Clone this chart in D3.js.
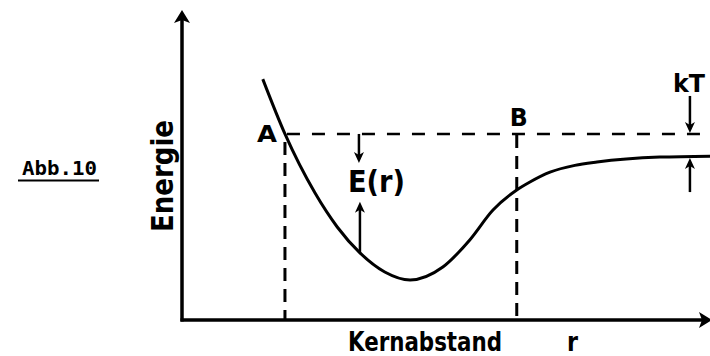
<!DOCTYPE html>
<html lang="de">
<head>
<meta charset="UTF-8">
<script src="https://d3js.org/d3.v7.min.js"></script>
<style>
  body { margin: 0; background: #fff; }
  svg { display: block; }
  .lbl { font-family: "DejaVu Sans", sans-serif; font-weight: bold; fill: #000; }
</style>
</head>
<body>
<div id="chart"></div>
<script>
// potential curve E(r) (arbitrary units)
const rVals = [1.53, 1.95, 2.52, 2.94, 3.37, 3.84, 4.32, 4.94, 5.45, 5.89, 6.34, 6.59, 6.97, 7.44, 7.86, 9.05, 10];
const eVals = [7.82, 6.04, 4.12, 3.02, 2.18, 1.56, 1.30, 1.72, 2.60, 3.57, 4.22, 4.48, 4.80, 5.02, 5.13, 5.29, 5.32];

// annotation values
const levelE = 6.04;   // energy level through A and B
const rA = 1.95, rB = 6.34;
const rEArrow = 3.37;  // where the E(r) arrows sit
const rKT = 9.62;      // where the kT arrows sit
const eAsym = 5.29;

const width = 710, height = 356;

const svg = d3.select("#chart").append("svg")
  .attr("width", width).attr("height", height);

const x = d3.scaleLinear().domain([0, 10]).range([182, 710]);
const y = d3.scaleLinear().domain([0, 10]).range([320, 12]);

const pts = rVals.map((r, i) => [r, eVals[i]]);

// arrowhead helper (filled), tip at (tx,ty), pointing dir: "up" | "down" | "right"
function head(tx, ty, dir, w = 5, l = 11) {
  let p;
  if (dir === "up") p = [[tx, ty], [tx - w, ty + l], [tx, ty + l - 3], [tx + w, ty + l]];
  else if (dir === "down") p = [[tx, ty], [tx - w, ty - l], [tx, ty - l + 3], [tx + w, ty - l]];
  else p = [[tx, ty], [tx - l, ty - w], [tx - l + 3, ty], [tx - l, ty + w]];
  svg.append("path").attr("d", "M" + p.join("L") + "Z").attr("fill", "#000");
}

// axes
svg.append("line")
  .attr("x1", x(0)).attr("x2", x(0))
  .attr("y1", y(0) + 1.5).attr("y2", y(10) + 4)
  .attr("stroke", "#000").attr("stroke-width", 3.5);
head(x(0), y(10) - 2, "up", 8, 13);

svg.append("line")
  .attr("x1", x(0) - 1.5).attr("x2", x(10) - 4)
  .attr("y1", y(0)).attr("y2", y(0))
  .attr("stroke", "#000").attr("stroke-width", 3.5);
head(x(10) + 2, y(0), "right", 8, 13);

// dashed level line and verticals
svg.append("line")
  .attr("x1", x(rA) + 2).attr("x2", x(10))
  .attr("y1", y(levelE)).attr("y2", y(levelE))
  .attr("stroke", "#000").attr("stroke-width", 2.5)
  .attr("stroke-dasharray", "13,12");

[rA, rB].forEach((r, i) => {
  svg.append("line")
    .attr("x1", x(r)).attr("x2", x(r))
    .attr("y1", i === 0 ? y(levelE) + 8 : y(levelE) + 1).attr("y2", y(0))
    .attr("stroke", "#000").attr("stroke-width", 3)
    .attr("stroke-dasharray", "13,8");
});

// the curve
svg.append("path")
  .datum(pts)
  .attr("fill", "none")
  .attr("stroke", "#000")
  .attr("stroke-width", 3)
  .attr("d", d3.line().x(d => x(d[0])).y(d => y(d[1])).curve(d3.curveMonotoneX));

// E(r) arrows
const curveAt = r => eVals[rVals.indexOf(r)];
svg.append("line")
  .attr("x1", x(rEArrow) - 1).attr("x2", x(rEArrow) - 1)
  .attr("y1", y(levelE)).attr("y2", y(levelE) + 24)
  .attr("stroke", "#000").attr("stroke-width", 2.5);
head(x(rEArrow) - 1, y(levelE) + 29, "down");
svg.append("line")
  .attr("x1", x(rEArrow)).attr("x2", x(rEArrow))
  .attr("y1", y(curveAt(rEArrow))).attr("y2", y(curveAt(rEArrow)) - 46)
  .attr("stroke", "#000").attr("stroke-width", 2.5);
head(x(rEArrow), y(curveAt(rEArrow)) - 51, "up");

// kT arrows
svg.append("line")
  .attr("x1", x(rKT)).attr("x2", x(rKT))
  .attr("y1", y(levelE) - 38).attr("y2", y(levelE) - 6)
  .attr("stroke", "#000").attr("stroke-width", 2.5);
head(x(rKT), y(levelE) - 1, "down");
svg.append("line")
  .attr("x1", x(rKT)).attr("x2", x(rKT))
  .attr("y1", y(eAsym) + 35).attr("y2", y(eAsym) + 6)
  .attr("stroke", "#000").attr("stroke-width", 2.5);
head(x(rKT), y(eAsym) + 1, "up");

// labels
function label(t, cx, by, size, len, anchor = "middle") {
  return svg.append("text").attr("class", "lbl")
    .attr("x", cx).attr("y", by)
    .attr("text-anchor", anchor)
    .attr("font-size", size)
    .attr("textLength", len).attr("lengthAdjust", "spacingAndGlyphs")
    .text(t);
}

label("A", x(rA) - 18, y(levelE) + 8, 23, 20);
label("B", x(rB) + 2, y(levelE) - 8, 25, 18);
label("kT", 689, 92, 25, 32);
label("E(r)", 348, 192, 31, 57, "start");
label("Kernabstand", 348, 351, 26, 154, "start");
label("r", 567, 351, 26, 11, "start");

svg.append("text").attr("class", "lbl")
  .attr("transform", "translate(173,232) rotate(-90)")
  .attr("font-size", 30)
  .attr("textLength", 112).attr("lengthAdjust", "spacingAndGlyphs")
  .text("Energie");

svg.append("text")
  .attr("x", 22).attr("y", 175)
  .attr("font-family", "DejaVu Sans Mono, monospace")
  .attr("font-weight", "bold")
  .attr("font-size", 19)
  .attr("textLength", 75).attr("lengthAdjust", "spacingAndGlyphs")
  .text("Abb.10");
svg.append("line")
  .attr("x1", 18).attr("x2", 99).attr("y1", 180.5).attr("y2", 180.5)
  .attr("stroke", "#000").attr("stroke-width", 2);
</script>
</body>
</html>
